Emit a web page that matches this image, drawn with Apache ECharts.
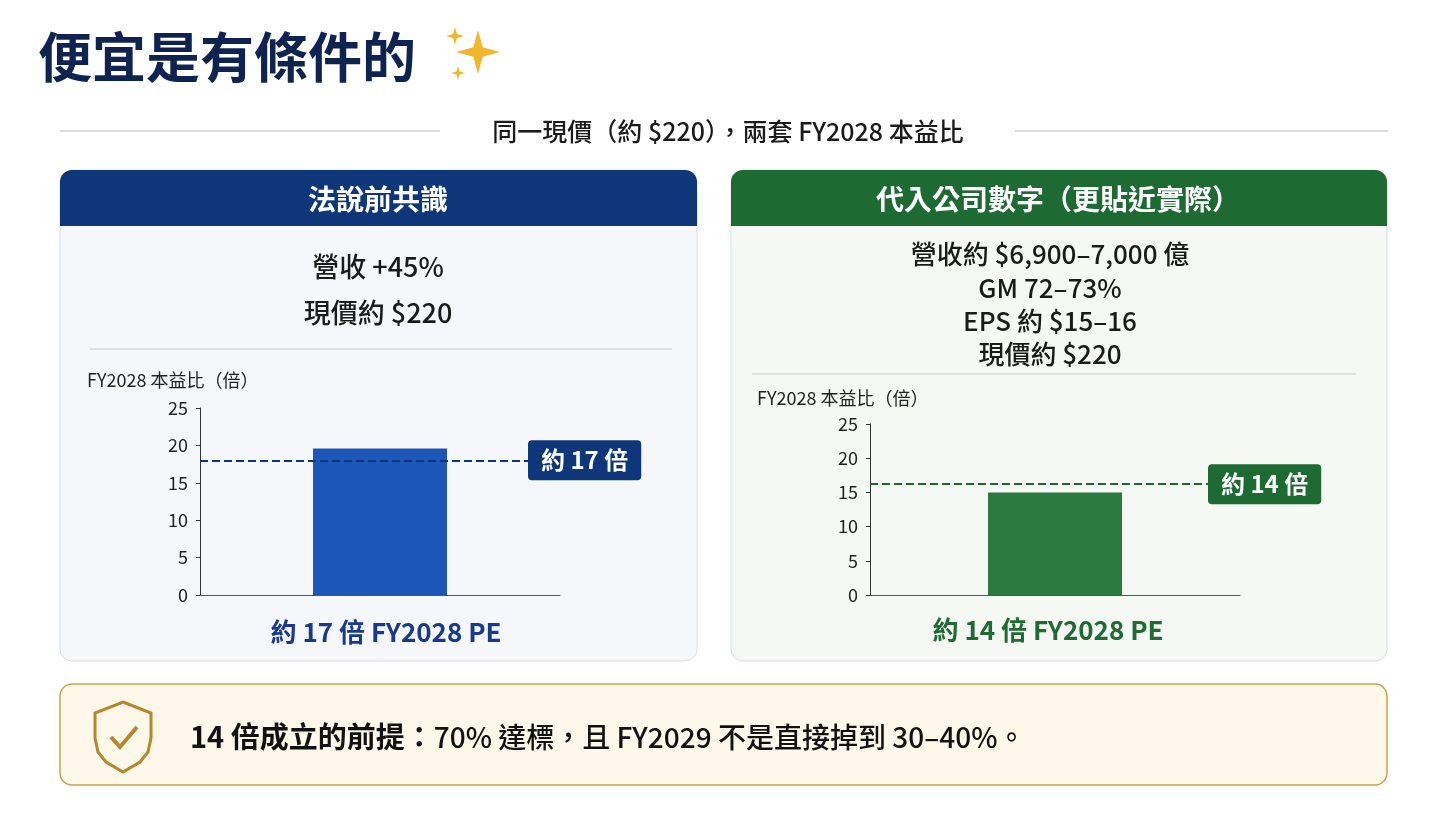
<!DOCTYPE html>
<html><head><meta charset="utf-8">
<script src="https://cdn.jsdelivr.net/npm/echarts@6/dist/echarts.min.js"></script>
<style>html,body{margin:0;padding:0;background:#fff}#c{width:1456px;height:819px}</style>
</head><body><div id="c"></div>
<script>
const F = '"Noto Sans CJK TC","Noto Sans",sans-serif';
const categories = ['FY2028'];
const leftValues = [19.6];
const rightValues = [15.0];
const leftRef = 18;
const rightRef = 16.2;
const yTicks = [0,5,10,15,20,25];
const leftLabel = '約 17 倍';
const rightLabel = '約 14 倍';

const chart = echarts.init(document.getElementById('c'));
function star(cx, cy, r, k) {
  const pts = [];
  for (let i = 0; i < 8; i++) {
    const a = i * Math.PI / 4 - Math.PI / 2;
    const rr = i % 2 ? r * k : r;
    pts.push([cx + rr * Math.cos(a), cy + rr * Math.sin(a)]);
  }
  return {type:'polygon', shape:{points:pts}, style:{fill:'#f2b62b'}};
}
function txt(x, y, t, size, color, weight, align) {
  return {type:'text', x, y, style:{text:t, font:`${weight||'normal'} ${size}px ${F}`, fill:color, textAlign:align||'center', textVerticalAlign:'middle'}};
}
const shieldPts = [[123,702],[151,713],[151,738],[148,752],[140,762],[123,772],[106,762],[98,752],[95,738],[95,713]];
const graphic = [
  txt(38, 57, '便宜是有條件的', 54, '#0f2350', 'bold', 'left'),
  star(478, 52, 22, 0.3), star(455, 36, 9, 0.3), star(458, 73, 7, 0.3),
  {type:'line', shape:{x1:60,y1:131,x2:440,y2:131}, style:{stroke:'#bbb', lineWidth:1}},
  {type:'line', shape:{x1:1015,y1:131,x2:1388,y2:131}, style:{stroke:'#bbb', lineWidth:1}},
  txt(728, 131, '同一現價（約 $220），兩套 FY2028 本益比', 25, '#1a1a1a', '500'),
  {type:'rect', shape:{x:60,y:170,width:637,height:491,r:12}, style:{fill:'#f5f7fb', stroke:'#d8dde6', lineWidth:1}},
  {type:'rect', shape:{x:60,y:170,width:637,height:56,r:[12,12,0,0]}, style:{fill:'#0d3778'}},
  txt(378, 199, '法說前共識', 28, '#fff', 'bold'),
  txt(378, 267, '營收 +45%', 27, '#1a1a1a', '500'),
  txt(378, 313, '現價約 $220', 27, '#1a1a1a', '500'),
  {type:'line', shape:{x1:90,y1:349,x2:672,y2:349}, style:{stroke:'#ccc', lineWidth:1}},
  txt(87, 380, 'FY2028 本益比（倍）', 18, '#222', 'normal', 'left'),
  txt(386, 632, '約 17 倍 FY2028 PE', 26, '#183a8c', 'bold'),
  {type:'rect', shape:{x:731,y:170,width:656,height:491,r:12}, style:{fill:'#f5f8f3', stroke:'#d8dde6', lineWidth:1}},
  {type:'rect', shape:{x:731,y:170,width:656,height:56,r:[12,12,0,0]}, style:{fill:'#1d6a33'}},
  txt(1058, 199, '代入公司數字（更貼近實際）', 28, '#fff', 'bold'),
  txt(1050, 254, '營收約 $6,900–7,000 億', 26, '#1a1a1a', '500'),
  txt(1050, 288, 'GM 72–73%', 26, '#1a1a1a', '500'),
  txt(1050, 321, 'EPS 約 $15–16', 26, '#1a1a1a', '500'),
  txt(1050, 354, '現價約 $220', 26, '#1a1a1a', '500'),
  {type:'line', shape:{x1:752,y1:374,x2:1356,y2:374}, style:{stroke:'#ccc', lineWidth:1}},
  txt(757, 398, 'FY2028 本益比（倍）', 18, '#222', 'normal', 'left'),
  txt(1048, 630, '約 14 倍 FY2028 PE', 26, '#1f6b33', 'bold'),
  {type:'rect', shape:{x:60,y:684,width:1327,height:101,r:12}, style:{fill:'#fdf8ea', stroke:'#c9a24a', lineWidth:1.5}},
  {type:'polygon', shape:{points:shieldPts}, style:{fill:'none', stroke:'#b8862b', lineWidth:3}},
  {type:'polyline', shape:{points:[[111,737],[120,747],[137,727]]}, style:{fill:'none', stroke:'#b8862b', lineWidth:4}},
  {type:'text', x:190, y:737, style:{rich:{b:{font:`bold 29px ${F}`, fill:'#111'}, n:{font:`500 28px ${F}`, fill:'#111'}}, text:'{b|14 倍成立的前提：}{n|70% 達標，且 FY2029 不是直接掉到 30–40%。}', textVerticalAlign:'middle'}}
];
function yAx(i){return {type:'value', gridIndex:i, min:0, max:25, interval:5, axisLine:{show:true, lineStyle:{color:'#333'}}, axisTick:{show:true, length:4, lineStyle:{color:'#333'}}, splitLine:{show:false}, axisLabel:{color:'#222', fontSize:18, fontFamily:F, margin:12, formatter:v=>yTicks.includes(v)?String(v):''}};}
function xAx(i){return {type:'category', gridIndex:i, data:categories, axisLine:{lineStyle:{color:'#555'}}, axisTick:{show:false}, axisLabel:{show:false}};}
function ml(v, color, label){return {symbol:'none', silent:true, data:[{yAxis:v}], lineStyle:{type:'dashed', color, width:2},
  label:{position:'end', distance:-32, formatter:label, color:'#fff', backgroundColor:color, padding:[8,13], borderRadius:4, fontSize:24, fontWeight:'bold', fontFamily:F}};}
chart.setOption({
  animation:false,
  graphic,
  grid:[{left:200, top:408, width:360, height:187}, {left:870, top:424, width:370, height:171}],
  xAxis:[xAx(0), xAx(1)],
  yAxis:[yAx(0), yAx(1)],
  series:[
    {type:'bar', xAxisIndex:0, yAxisIndex:0, data:leftValues, barWidth:134, itemStyle:{color:'#1c56b8'}, markLine:ml(leftRef, '#0d3778', leftLabel)},
    {type:'bar', xAxisIndex:1, yAxisIndex:1, data:rightValues, barWidth:134, itemStyle:{color:'#2b7a3f'}, markLine:ml(rightRef, '#1d6a33', rightLabel)}
  ]
});
</script></body></html>
